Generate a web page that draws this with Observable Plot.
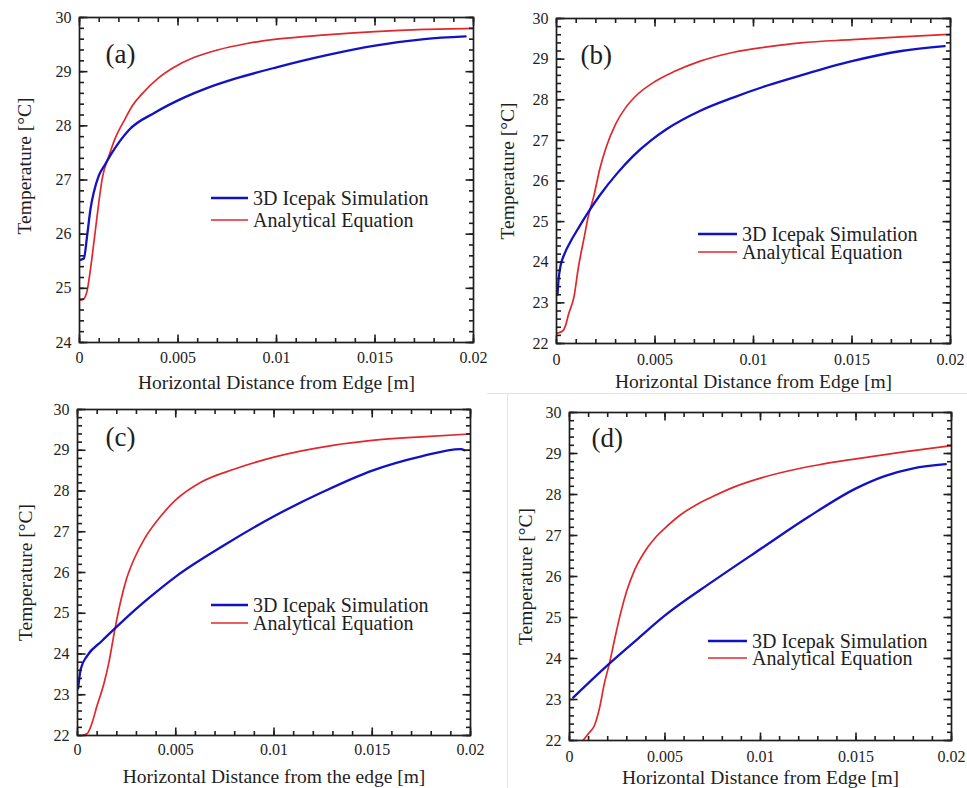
<!DOCTYPE html>
<html>
<head>
<meta charset="utf-8">
<script src="https://cdn.jsdelivr.net/npm/d3@7"></script>
<script src="https://cdn.jsdelivr.net/npm/@observablehq/plot@0.6"></script>
<style>
  body { margin: 0; background: #fff; }
  #fig { position: relative; width: 967px; height: 788px; overflow: hidden; background: #fff; }
  #fig text { font-family: 'Liberation Serif', 'Times New Roman', serif; }
  .panel { position: absolute; }
  .sep { position: absolute; background: #e4e4e4; }
</style>
</head>
<body>
<div id="fig"></div>
<script>
// ---- Shared axis text and ticks ----
const yAxisLabel = "Temperature [°C]";
const xLabelEdge = "Horizontal Distance from Edge [m]";
const xLabelTheEdge = "Horizontal Distance from the edge [m]";
const legendNames = ["3D Icepak Simulation", "Analytical Equation"];
const xTicks = [0, 0.005, 0.01, 0.015, 0.02];
const xTickLabels = ["0", "0.005", "0.01", "0.015", "0.02"];
const yTicksA = [24, 25, 26, 27, 28, 29, 30];
const yTicksBCD = [22, 23, 24, 25, 26, 27, 28, 29, 30];

// ---- Panel (a) ----
const aSimX = [0, 0.00022, 0.00039, 0.00056, 0.00073, 0.00098, 0.00132, 0.00166, 0.0025, 0.00386, 0.0053, 0.0065, 0.0079, 0.01, 0.0125, 0.015, 0.0175, 0.0196];
const aSimT = [25.52, 25.55, 25.98, 26.47, 26.78, 27.08, 27.3, 27.51, 27.92, 28.25, 28.52, 28.7, 28.87, 29.08, 29.3, 29.48, 29.6, 29.65];
const aEqX = [0, 0.0002, 0.0004, 0.00056, 0.00073, 0.0009, 0.00115, 0.0015, 0.0018, 0.0023, 0.0027, 0.0032, 0.004, 0.0048, 0.0058, 0.007, 0.0085, 0.01, 0.0125, 0.015, 0.0175, 0.02];
const aEqT = [24.78, 24.8, 24.98, 25.36, 25.85, 26.35, 27.02, 27.45, 27.76, 28.12, 28.38, 28.6, 28.88, 29.08, 29.26, 29.4, 29.52, 29.6, 29.68, 29.74, 29.78, 29.8];

// ---- Panel (b) ----
const bSimX = [0.00005, 0.0001, 0.0002, 0.0004, 0.0007, 0.001, 0.0015, 0.0022, 0.0031, 0.0039, 0.0048, 0.0056, 0.0073, 0.009, 0.0107, 0.0124, 0.015, 0.0175, 0.0197];
const bSimT = [23.2, 23.55, 23.9, 24.2, 24.5, 24.75, 25.15, 25.65, 26.2, 26.62, 27.0, 27.28, 27.73, 28.06, 28.35, 28.6, 28.95, 29.2, 29.32];
const bEqX = [0, 0.0003, 0.00046, 0.0006, 0.0009, 0.0011, 0.0014, 0.0016, 0.0019, 0.0022, 0.0025, 0.003, 0.0035, 0.004, 0.005, 0.006, 0.0073, 0.009, 0.0107, 0.0124, 0.015, 0.0175, 0.02];
const bEqT = [22.25, 22.3, 22.44, 22.7, 23.18, 23.84, 24.6, 25.1, 25.64, 26.3, 26.8, 27.4, 27.8, 28.08, 28.45, 28.7, 28.95, 29.17, 29.3, 29.4, 29.48, 29.55, 29.61];

// ---- Panel (c) ----
const cSimX = [0.00003, 0.00017, 0.0005, 0.0012, 0.002, 0.0029, 0.0037, 0.005, 0.0075, 0.01, 0.0125, 0.015, 0.0175, 0.0195, 0.0197];
const cSimT = [23.15, 23.64, 23.96, 24.3, 24.67, 25.07, 25.4, 25.9, 26.68, 27.38, 27.98, 28.5, 28.85, 29.03, 29.0];
const cEqX = [0.00025, 0.0005, 0.0007, 0.001, 0.00136, 0.0016, 0.0019, 0.0022, 0.0025, 0.0029, 0.0034, 0.0041, 0.005, 0.0063, 0.008, 0.01, 0.013, 0.015, 0.0175, 0.02];
const cEqT = [22.0, 22.05, 22.25, 22.74, 23.3, 23.8, 24.6, 25.3, 25.85, 26.35, 26.82, 27.3, 27.78, 28.22, 28.54, 28.83, 29.12, 29.24, 29.33, 29.4];

// ---- Panel (d) ----
const dSimX = [0.0002, 0.0021, 0.0035, 0.005, 0.0075, 0.01, 0.0125, 0.015, 0.0165, 0.018, 0.0197];
const dSimT = [23.05, 23.88, 24.45, 25.05, 25.88, 26.67, 27.45, 28.15, 28.45, 28.64, 28.74];
const dEqX = [0.0007, 0.00105, 0.0013, 0.0016, 0.0018, 0.0021, 0.0024, 0.0027, 0.003, 0.0034, 0.0039, 0.0045, 0.005, 0.0058, 0.0066, 0.0075, 0.0086, 0.01, 0.0115, 0.013, 0.015, 0.0175, 0.02];
const dEqT = [22.0, 22.2, 22.36, 22.85, 23.34, 23.9, 24.55, 25.15, 25.65, 26.15, 26.58, 26.95, 27.18, 27.5, 27.74, 27.95, 28.18, 28.4, 28.58, 28.72, 28.87, 29.04, 29.19];

// ---- Styling ----
const INK = "#1e1e1e";
const BLUE = "#1212c4";
const RED = "#e0282c";
const FONT = "'Liberation Serif', 'Times New Roman', serif";

const xMinor = d3.range(0, 21).map(i => i / 1000);
const minorOf = ticks => d3.range(ticks[0] * 5, ticks[ticks.length - 1] * 5 + 1).map(v => v / 5);

const panels = [
  {letter: "(a)", left: 0, top: 0, width: 480, height: 392, m: [17, 7, 50, 79],
   yTicks: yTicksA, simX: aSimX, simT: aSimT, eqX: aEqX, eqT: aEqT, xLabel: xLabelEdge,
   letterPos: [26, 37], legend: [132, 181, 22, 37], xLabelDy: 40, yLabelDx: -55, yLabelDy: -14, xPad: 9},
  {letter: "(b)", left: 480, top: 0, width: 487, height: 392, m: [18, 17, 49, 76],
   yTicks: yTicksBCD, simX: bSimX, simT: bSimT, eqX: bEqX, eqT: bEqT, xLabel: xLabelEdge,
   letterPos: [24, 37], legend: [142, 216, 18, 39], xLabelDy: 38, yLabelDx: -49, yLabelDy: -10, xPad: 10},
  {letter: "(c)", left: 0, top: 395, width: 480, height: 393, m: [14, 10, 53, 77],
   yTicks: yTicksBCD, simX: cSimX, simT: cSimT, eqX: cEqX, eqT: cEqT, xLabel: xLabelTheEdge,
   letterPos: [28, 28], legend: [134, 196, 18, 37], xLabelDy: 41, yLabelDx: -52, yLabelDy: 0, xPad: 8},
  {letter: "(d)", left: 480, top: 395, width: 487, height: 393, m: [17, 16, 48, 89],
   yTicks: yTicksBCD, simX: dSimX, simT: dSimT, eqX: dEqX, eqT: dEqT, xLabel: xLabelEdge,
   letterPos: [22, 26], legend: [139, 229, 17, 39], xLabelDy: 37, yLabelDx: -44, yLabelDy: 0, xPad: 10}
];

const fig = document.getElementById("fig");

// faint separators around the lower-right panel
for (const s of [
  {left: 487, top: 393, width: 480, height: 1},
  {left: 507, top: 393, width: 1, height: 395}
]) {
  const d = document.createElement("div");
  d.className = "sep";
  Object.assign(d.style, {left: s.left + "px", top: s.top + "px", width: s.width + "px", height: s.height + "px"});
  fig.appendChild(d);
}

for (const p of panels) {
  const [mt, mr, mb, ml] = p.m;
  const innerW = p.width - ml - mr;
  const innerH = p.height - mt - mb;
  const yMinor = minorOf(p.yTicks);
  const yLo = p.yTicks[0];
  const yUnit = (30 - yLo) / innerH;      // data units per pixel, vertical
  const xUnit = 0.02 / innerW;            // data units per pixel, horizontal
  const tickStyle = {stroke: INK, strokeWidth: 1.6, strokeLinecap: "butt"};

  // inward tick segments on all four sides, drawn in data space
  const tickLinks = (len, xs, ys) => [
    Plot.link(xs, {x1: d => d, x2: d => d, y1: 30, y2: 30 - len * yUnit, ...tickStyle}),
    Plot.link(xs, {x1: d => d, x2: d => d, y1: yLo, y2: yLo + len * yUnit, ...tickStyle}),
    Plot.link(ys, {y1: d => d, y2: d => d, x1: 0, x2: len * xUnit, ...tickStyle}),
    Plot.link(ys, {y1: d => d, y2: d => d, x1: 0.02, x2: 0.02 - len * xUnit, ...tickStyle})
  ];

  const chart = Plot.plot({
    width: p.width,
    height: p.height,
    marginTop: mt, marginRight: mr, marginBottom: mb, marginLeft: ml,
    style: `background: transparent; overflow: visible; max-width: none; font-family: ${FONT}; font-size: 16px; color: ${INK};`,
    x: {domain: [0, 0.02]},
    y: {domain: [yLo, 30]},
    marks: [
      // curves
      Plot.line(p.eqT, {x: p.eqX, y: p.eqT, stroke: RED, strokeWidth: 1.7, curve: "monotone-x", clip: true}),
      Plot.line(p.simT, {x: p.simX, y: p.simT, stroke: BLUE, strokeWidth: 2.3, curve: "monotone-x", clip: true}),
      ...tickLinks(4.5, xMinor, yMinor),
      ...tickLinks(8, xTicks, p.yTicks),
      Plot.frame({stroke: INK, strokeWidth: 1.7}),
      // tick labels
      Plot.axisX({ticks: xTicks, tickSize: 0, tickPadding: p.xPad, label: null, fontFamily: FONT,
                  tickFormat: d => xTickLabels[xTicks.indexOf(d)], fontSize: 16}),
      Plot.axisY({ticks: p.yTicks, tickSize: 0, tickPadding: 8, label: null, fontFamily: FONT,
                  tickFormat: d => String(d), fontSize: 16}),
      // axis titles
      Plot.text([p.xLabel], {text: d => d, frameAnchor: "bottom", dy: p.xLabelDy, fontSize: 19.5, fontFamily: FONT,
                             textAnchor: "middle", lineAnchor: "middle", fill: INK}),
      Plot.text([yAxisLabel], {text: d => d, frameAnchor: "left", rotate: -90, dx: p.yLabelDx, dy: p.yLabelDy,
                               fontSize: 19.5, fontFamily: FONT, textAnchor: "middle", lineAnchor: "middle", fill: INK}),
      // panel letter
      Plot.text([p.letter], {text: d => d, frameAnchor: "top-left", dx: p.letterPos[0], dy: p.letterPos[1],
                             fontSize: 27, fontFamily: FONT, textAnchor: "start", lineAnchor: "middle", fill: INK})
    ]
  });

  // legend inside the frame
  const [lx, ly, gap, segLen] = p.legend;
  const g = d3.select(chart).append("g").attr("transform", `translate(${ml},${mt})`);
  [BLUE, RED].forEach((c, i) => {
    const y = ly + i * gap;
    g.append("line").attr("x1", lx).attr("x2", lx + segLen).attr("y1", y).attr("y2", y)
      .attr("stroke", c).attr("stroke-width", i === 0 ? 2.3 : 1.7);
    g.append("text").attr("x", lx + segLen + 5).attr("y", y).attr("dy", "0.34em")
      .attr("text-anchor", "start").attr("font-size", 20).attr("fill", INK).attr("font-family", FONT)
      .text(legendNames[i]);
  });

  const holder = document.createElement("div");
  holder.className = "panel";
  holder.style.left = p.left + "px";
  holder.style.top = p.top + "px";
  holder.appendChild(chart);
  fig.appendChild(holder);
}
</script>
</body>
</html>
